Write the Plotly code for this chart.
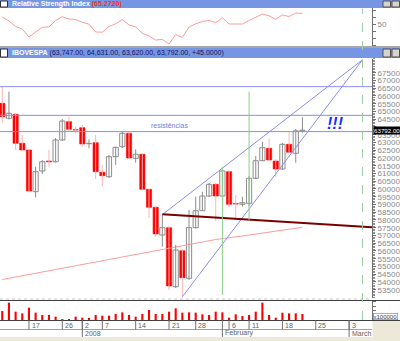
import plotly.graph_objects as go

W, H = 400, 341

# ---------------- data ----------------
dates = ["2007-12-11", "2007-12-12", "2007-12-13", "2007-12-14", "2007-12-17", "2007-12-18",
         "2007-12-19", "2007-12-20", "2007-12-21", "2007-12-26", "2007-12-27", "2007-12-28",
         "2008-01-02", "2008-01-03", "2008-01-04", "2008-01-07", "2008-01-08", "2008-01-09",
         "2008-01-10", "2008-01-11", "2008-01-14", "2008-01-15", "2008-01-16", "2008-01-17",
         "2008-01-18", "2008-01-21", "2008-01-22", "2008-01-23", "2008-01-24", "2008-01-28",
         "2008-01-29", "2008-01-30", "2008-01-31", "2008-02-01", "2008-02-06", "2008-02-07",
         "2008-02-08", "2008-02-11", "2008-02-12", "2008-02-13", "2008-02-14", "2008-02-15",
         "2008-02-18", "2008-02-19", "2008-02-20", "2008-02-21"]
opens = [65526, 64558, 64816, 62945, 62513, 59823, 61158, 61803, 61758, 63158, 64339, 63826,
         63952, 62920, 62984, 61074, 60790, 62081, 62726, 63590, 61977, 62235, 59977, 58816,
         57029, 57500, 53694, 56016, 54235, 57500, 58597, 59545, 60300, 59545, 61113, 59050,
         59010, 59074, 60687, 61823, 62623, 61803, 61287, 62881, 62300, 63747]
highs = [66597, 66274, 64900, 63481, 62577, 61435, 61868, 62513, 63287, 64513, 64661, 64016,
         64126, 63203, 63481, 61545, 62190, 62726, 63694, 63739, 62558, 62319, 59997, 58900,
         58365, 57610, 56384, 56126, 58642, 59500, 59823, 60384, 60384, 61287, 61223, 59610,
         59500, 60835, 62126, 63048, 63268, 61932, 62965, 63655, 63868, 64631]
lows = [64255, 64481, 62513, 62448, 59803, 59461, 60965, 61435, 61706, 63094, 63694, 63590,
        62726, 62623, 60642, 60145, 60707, 61545, 62642, 61932, 61694, 59932, 58126, 56919,
        56274, 53481, 53610, 53048, 54126, 57448, 58577, 59481, 57952, 59481, 58816, 58106,
        58855, 58890, 60642, 61803, 61803, 60790, 61223, 62319, 61694, 63620]
closes = [64661, 64881, 62945, 62513, 59868, 61113, 61758, 61750, 63158, 64384, 63848, 63800,
          62900, 62945, 61113, 60855, 62081, 62687, 63590, 61997, 62235, 59977, 58816, 57094,
          57500, 53739, 56061, 54274, 57500, 58597, 59545, 60300, 59545, 61158, 59010, 59030,
          59113, 60687, 61823, 62661, 61868, 61287, 62881, 62365, 63747, 63792]
volumes = [27, 52, 25, 20, 37, 22, 15, 15, 10, 3, 2, 10,
           7, 5, 15, 13, 13, 18, 23, 15, 10, 18, 30, 18,
           18, 25, 35, 22, 23, 22, 17, 15, 25, 23, 7, 17,
           12, 15, 25, 52, 15, 7, 22, 20, 20, 18]
rsi = [60, 54.3, 46.4, 42.9, 31.4, 38.6, 45.3, 45.7, 55, 60.4, 57.1, 56.4,
       52.4, 49.7, 38.6, 38.3, 46.4, 50.3, 56.4, 48.6, 45.9, 36.6, 32.9, 27.1,
       28.1, 21.4, 35, 30.7, 45.7, 50.3, 53.6, 55, 52.1, 59, 50, 50,
       50, 55, 60, 64.3, 61.7, 56.7, 62.9, 60.7, 65.7, 65.27]
ma_dates = ["2007-12-11", "2007-12-17", "2007-12-21", "2008-01-02", "2008-01-08", "2008-01-14",
            "2008-01-18", "2008-01-24", "2008-01-31", "2008-02-08", "2008-02-14", "2008-02-21"]
ma_values = [54158, 54481, 54803, 55126, 55448, 55771, 56094, 56448, 56739, 56965, 57223, 57526]

future_days = ["2008-02-22", "2008-02-25", "2008-02-26", "2008-02-27", "2008-02-28",
               "2008-02-29", "2008-03-03", "2008-03-04", "2008-03-05", "2008-03-06"]
cal = ["2007-12-10"] + dates + future_days

day_ticks = [("2007-12-10", "10"), ("2007-12-17", "17"), ("2007-12-26", "26"), ("2008-01-02", "2"),
             ("2008-01-07", "7"), ("2008-01-14", "14"), ("2008-01-21", "21"), ("2008-01-28", "28"),
             ("2008-02-06", "6"), ("2008-02-11", "11"), ("2008-02-18", "18"), ("2008-02-25", "25"),
             ("2008-03-03", "3")]
month_ticks = [("2008-01-02", "2008"), ("2008-02-01", "February"), ("2008-03-03", "March")]
price_ticks = list(range(53500, 68000, 500))
hidden_price_labels = [64000]  # covered by the last-price box

resistance_levels = [66600, 64750, 63700]
fan_apex = ("2008-03-05", 68330)
fan_starts = [("2008-01-18", 58345), ("2008-01-23", 53048)]
support_line = [("2008-01-18", 58365), ("2008-03-05", 57564)]
green_lines = [("2008-02-01", 53158, 61435), ("2008-02-11", 57997, 66274)]
dashed_date = "2008-03-05"
last_price = 63792.00

# ---------------- helpers ----------------
def py(px):
    return 1 - px / H

def X(d):
    return cal.index(d)

XR = [0.66, 56.43]
XD = 372 / W
FONT = "Liberation Sans"

xs = [X(d) for d in dates]
up = [c >= o for o, c in zip(opens, closes)]

fig = go.Figure()

# RSI
fig.add_trace(go.Scatter(x=xs, y=rsi, mode="lines", line=dict(color="#ff9a9a", width=1),
                         xaxis="x3", yaxis="y3", hoverinfo="skip"))

# moving average
fig.add_trace(go.Scatter(x=[X(d) for d in ma_dates], y=ma_values, mode="lines",
                         line=dict(color="#ff9a9a", width=1), xaxis="x2", yaxis="y2"))

# wicks
wxu, wyu, wxd, wyd = [], [], [], []
for x, h, l, u in zip(xs, highs, lows, up):
    if u:
        wxu += [x, x, None]; wyu += [l, h, None]
    else:
        wxd += [x, x, None]; wyd += [l, h, None]
fig.add_trace(go.Scatter(x=wxd, y=wyd, mode="lines", line=dict(color="#ffb4b4", width=1),
                         xaxis="x2", yaxis="y2"))
fig.add_trace(go.Scatter(x=wxu, y=wyu, mode="lines", line=dict(color="#8c8c8c", width=1),
                         xaxis="x2", yaxis="y2"))

# bodies
ux = [x for x, u in zip(xs, up) if u]
ub = [o for o, u in zip(opens, up) if u]
uh = [c - o for o, c, u in zip(opens, closes, up) if u]
dx = [x for x, u in zip(xs, up) if not u]
db = [c for c, u in zip(closes, up) if not u]
dh = [o - c for o, c, u in zip(opens, closes, up) if not u]
fig.add_trace(go.Bar(x=ux, y=uh, base=ub, width=0.78, marker=dict(color="white",
                     line=dict(color="#8c8c8c", width=1)), xaxis="x2", yaxis="y2"))
fig.add_trace(go.Bar(x=dx, y=dh, base=db, width=0.78, marker=dict(color="#ff0000",
                     line=dict(color="#ff0000", width=0.6)), xaxis="x2", yaxis="y2"))

# volume
fig.add_trace(go.Bar(x=xs, y=volumes, width=0.32, marker=dict(color="#ff0000", line=dict(width=0)),
                     xaxis="x", yaxis="y"))

# trend lines (fan)
for d, p in fan_starts:
    fig.add_trace(go.Scatter(x=[X(d), X(fan_apex[0])], y=[p, fan_apex[1]], mode="lines",
                             line=dict(color="#8c8cf0", width=1), xaxis="x2", yaxis="y2"))
# support line extended to right edge
(sd0, sp0), (sd1, sp1) = support_line
slope = (sp1 - sp0) / (X(sd1) - X(sd0))
fig.add_trace(go.Scatter(x=[X(sd0), XR[1]], y=[sp0, sp0 + slope * (XR[1] - X(sd0))], mode="lines",
                         line=dict(color="#7a0000", width=2), xaxis="x2", yaxis="y2"))

shapes = []
# title bars
for y0, y1 in [(0, 8), (48, 58)]:
    shapes.append(dict(type="rect", xref="paper", yref="paper", x0=0, x1=1, y0=py(y1), y1=py(y0),
                       fillcolor="#7696e4", line=dict(width=0), layer="above"))
    shapes.append(dict(type="rect", xref="paper", yref="paper", x0=0.5 / W, x1=7.5 / W,
                       y0=py(y1 - 1), y1=py(y0 + 1), fillcolor="white",
                       line=dict(color="#303030", width=1), layer="above"))
    for bx in (383, 392):
        shapes.append(dict(type="rect", xref="paper", yref="paper", x0=bx / W, x1=(bx + 7.5) / W,
                           y0=py(y1 - 1), y1=py(y0 + 1), fillcolor="#d8d4cc",
                           line=dict(color="#505050", width=1), layer="above"))
# separators
shapes.append(dict(type="line", xref="paper", yref="paper", x0=0, x1=1, y0=py(47), y1=py(47),
                   line=dict(color="#505050", width=1)))
shapes.append(dict(type="line", xref="paper", yref="paper", x0=0, x1=XD, y0=py(299), y1=py(299),
                   line=dict(color="#c8c8c8", width=1, dash="dot")))
shapes.append(dict(type="line", xref="paper", yref="paper", x0=0, x1=1, y0=py(300.5), y1=py(300.5),
                   line=dict(color="#404040", width=1)))
shapes.append(dict(type="line", xref="paper", yref="paper", x0=0, x1=1, y0=py(320.5), y1=py(320.5),
                   line=dict(color="#404040", width=1)))
shapes.append(dict(type="line", xref="paper", yref="paper", x0=0, x1=XD, y0=py(329.5), y1=py(329.5),
                   line=dict(color="#a0a0a0", width=1)))
shapes.append(dict(type="rect", xref="paper", yref="paper", x0=0, x1=1, y0=0, y1=py(337),
                   fillcolor="#ece9d8", line=dict(width=0)))
shapes.append(dict(type="rect", xref="paper", yref="paper", x0=XD + 0.5 / W, x1=1, y0=0, y1=py(321),
                   fillcolor="#ece9d8", line=dict(width=0)))
# resistances
for r in resistance_levels:
    shapes.append(dict(type="line", xref="paper", yref="y2", x0=0, x1=XD, y0=r, y1=r,
                       line=dict(color="#8c8cf0", width=1)))
# green verticals
for d, lo, hi in green_lines:
    shapes.append(dict(type="line", xref="x2", yref="y2", x0=X(d), x1=X(d), y0=lo, y1=hi,
                       line=dict(color="#88d088", width=1)))
# dashed vertical
shapes.append(dict(type="line", xref="x", yref="paper", x0=X(dashed_date), x1=X(dashed_date),
                   y0=py(320), y1=py(9), line=dict(color="#9ccf9c", width=1, dash="dash")))
# date ticks
for d, t in day_ticks:
    shapes.append(dict(type="line", xref="x", yref="paper", x0=X(d), x1=X(d), y0=py(329.5),
                       y1=py(320.5), line=dict(color="#707070", width=1)))
for d, t in month_ticks:
    shapes.append(dict(type="line", xref="x", yref="paper", x0=X(d), x1=X(d), y0=py(337),
                       y1=py(320.5), line=dict(color="#707070", width=1)))

ann = []
ann.append(dict(xref="paper", yref="paper", x=10 / W, y=py(4), xanchor="left", yanchor="middle",
                showarrow=False, font=dict(family=FONT, size=7, color="white"),
                text="<b>Relative Strength Index</b> <span style='color:#ff2a2a'><b>(65.2720)</b></span>"))
ann.append(dict(xref="paper", yref="paper", x=10 / W, y=py(53), xanchor="left", yanchor="middle",
                showarrow=False, font=dict(family=FONT, size=7, color="white"),
                text="<b>IBOVESPA</b> <span style='color:#14145a'>(63,747.00, 64,631.00, 63,620.00, 63,792.00, +45.0000)</span>"))
ann.append(dict(xref="x2", yref="y2", x=13.0 + 13, y=64061, xanchor="center", yanchor="middle",
                showarrow=False, font=dict(family=FONT, size=7, color="#7a7ae0"),
                text="resistências"))
ann.append(dict(xref="x2", yref="y2", x=37.9 + 13, y=64190, xanchor="center", yanchor="middle",
                showarrow=False, font=dict(family=FONT, size=16, color="#1a30ff"),
                text="<b><i>!!!</i></b>"))
ann.append(dict(xref="paper", yref="y2", x=XD + 0.5 / W, y=last_price, xanchor="left", yanchor="middle",
                showarrow=False, bgcolor="black", borderpad=0,
                font=dict(family=FONT, size=6.2, color="white"), text=f"{last_price:.2f}"))
ann.append(dict(xref="paper", yref="paper", x=XD + 1 / W, y=py(316), xanchor="left", yanchor="middle",
                showarrow=False, bgcolor="white", bordercolor="#606060", borderwidth=0.5, borderpad=0,
                font=dict(family=FONT, size=6, color="#404040"), text="x100000"))
for d, t in day_ticks:
    ann.append(dict(xref="x", yref="paper", x=X(d) + 0.1, y=py(325), xanchor="left", yanchor="middle",
                    showarrow=False, font=dict(family=FONT, size=7, color="#606060"), text=t))
for d, t in month_ticks:
    ann.append(dict(xref="x", yref="paper", x=X(d) + 0.1, y=py(333.3), xanchor="left", yanchor="middle",
                    showarrow=False, font=dict(family=FONT, size=7, color="#606060"), text=t))

axis_common = dict(range=XR, domain=[0, XD], showgrid=False, zeroline=False, showticklabels=False,
                   ticks="", showline=False)

fig.update_layout(
    width=W, height=H, autosize=False, margin=dict(l=0, r=0, t=0, b=0),
    paper_bgcolor="white", plot_bgcolor="white", showlegend=False, barmode="overlay",
    xaxis=dict(anchor="y", **axis_common),
    xaxis2=dict(anchor="y2", matches="x", **axis_common),
    xaxis3=dict(anchor="y3", matches="x", **axis_common),
    yaxis=dict(domain=[py(320), py(301)], range=[0, 57], side="right", anchor="x",
               showgrid=False, zeroline=False, tickvals=[14, 28, 42, 56], ticktext=["", "", "", ""],
               ticks="outside", ticklen=3, tickcolor="#707070", showline=True, linecolor="#707070"),
    yaxis2=dict(domain=[py(297.5), py(58.5)], range=[52997, 68416], side="right", anchor="x2",
                showgrid=False, zeroline=False, tickvals=price_ticks,
                ticktext=["" if v in hidden_price_labels else str(v) for v in price_ticks],
                ticks="outside", ticklen=3,
                tickcolor="#707070", tickfont=dict(family=FONT, size=8, color="#8a8a8a"),
                minor=dict(dtick=100, ticks="outside", ticklen=1.5, tickcolor="#909090"),
                showline=True, linecolor="#707070"),
    yaxis3=dict(domain=[py(46), py(8)], range=[18.57, 72.86], side="right", anchor="x3",
                showgrid=False, zeroline=False, tickvals=[20, 30, 40, 50, 60, 70],
                ticktext=["", "", "", "50", "", ""], ticks="outside", ticklen=3,
                tickcolor="#707070", tickfont=dict(family=FONT, size=8, color="#8a8a8a"),
                showline=True, linecolor="#707070"),
    shapes=shapes, annotations=ann,
)

fig.write_html("out.html")
